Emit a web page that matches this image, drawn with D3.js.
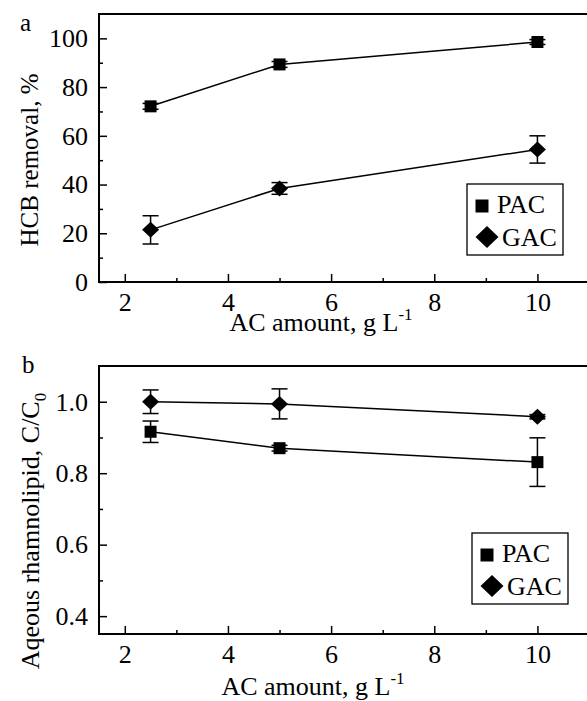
<!DOCTYPE html>
<html>
<head>
<meta charset="utf-8">
<script src="https://cdn.jsdelivr.net/npm/d3@7"></script>
<style>
  body { margin: 0; background: #fff; }
  svg text { font-family: "Liberation Serif", "Times New Roman", serif; fill: #000; }
</style>
</head>
<body>
<div id="chart"></div>
<script>
var width = 587, height = 701;

// x values shared by both panels (g/L)
var doses = [2.5, 5, 10];

// panel a: HCB removal, %
var pacRemoval = [72.1, 89.3, 98.5];
var pacRemovalErr = [1.2, 1.2, 1.0];
var gacRemoval = [21.4, 38.4, 54.4];
var gacRemovalErr = [5.8, 2.4, 5.6];

// panel b: aqueous rhamnolipid, C/C0
var pacRhamno = [0.916, 0.870, 0.831];
var pacRhamnoErr = [0.030, 0.008, 0.068];
var gacRhamno = [1.0, 0.994, 0.958];
var gacRhamnoErr = [0.033, 0.042, 0.006];

var xTicks = [2, 4, 6, 8, 10];
var xMinor = [3, 5, 7, 9];
var yTicksA = [0, 20, 40, 60, 80, 100];
var yMinorA = [10, 30, 50, 70, 90];
var yTicksB = [0.4, 0.6, 0.8, 1.0];
var yMinorB = [0.5, 0.7, 0.9];

var svg = d3.select("#chart").append("svg")
    .attr("width", width).attr("height", height);

var left = 99, right = 589;

function panel(opt) {
  var x = d3.scaleLinear().domain([1.5, 11]).range([left, right]);
  var y = d3.scaleLinear().domain(opt.ydom).range([opt.bottom, opt.top]);
  var g = svg.append("g");

  // frame
  g.append("rect")
    .attr("x", left).attr("y", opt.top)
    .attr("width", right - left).attr("height", opt.bottom - opt.top)
    .attr("fill", "none").attr("stroke", "#000").attr("stroke-width", 2);

  // x axis, ticks inward
  var ax = g.append("g").attr("transform", "translate(0," + opt.bottom + ")")
    .call(d3.axisBottom(x).tickValues(xTicks).tickSizeInner(-8).tickSizeOuter(0).tickPadding(11));
  ax.attr("font-family", null).attr("font-size", null);
  ax.select(".domain").remove();
  ax.selectAll("line").attr("stroke-width", 1.5);
  ax.selectAll("text").style("font-size", "26px");
  var axm = g.append("g").attr("transform", "translate(0," + opt.bottom + ")")
    .call(d3.axisBottom(x).tickValues(xMinor).tickSizeInner(-4).tickSizeOuter(0).tickFormat(""));
  axm.select(".domain").remove();
  axm.selectAll("line").attr("stroke-width", 1.5);

  // y axis, ticks inward
  var ay = g.append("g").attr("transform", "translate(" + left + ",0)")
    .call(d3.axisLeft(y).tickValues(opt.yticks).tickSizeInner(-8).tickSizeOuter(0).tickPadding(11)
      .tickFormat(opt.fmt));
  ay.attr("font-family", null).attr("font-size", null);
  ay.select(".domain").remove();
  ay.selectAll("line").attr("stroke-width", 1.5);
  ay.selectAll("text").style("font-size", "26px");
  var aym = g.append("g").attr("transform", "translate(" + left + ",0)")
    .call(d3.axisLeft(y).tickValues(opt.yminor).tickSizeInner(-4).tickSizeOuter(0).tickFormat(""));
  aym.select(".domain").remove();
  aym.selectAll("line").attr("stroke-width", 1.5);

  // axis titles
  var xt = g.append("text")
    .attr("x", opt.xTitleX).attr("y", opt.xTitleY)
    .attr("text-anchor", "middle").style("font-size", "26px");
  xt.append("tspan").text("AC amount, g L");
  xt.append("tspan").attr("dy", -11).style("font-size", "17px").text("-1");

  var yt = g.append("text")
    .attr("transform", "translate(" + opt.yTitleX + "," + opt.yTitleY + ") rotate(-90)")
    .attr("text-anchor", "middle").style("font-size", opt.yTitleSize);
  opt.ytitle(yt);

  g.append("text").attr("x", opt.letterX).attr("y", opt.letterY)
    .style("font-size", "25px").text(opt.letter);

  var line = d3.line().x(function(d) { return x(d.x); }).y(function(d) { return y(d.y); });

  opt.series.forEach(function(s) {
    var pts = doses.map(function(d, i) { return { x: d, y: s.y[i], e: s.e[i] }; });
    g.append("path").datum(pts).attr("d", line)
      .attr("fill", "none").attr("stroke", "#000").attr("stroke-width", 1.5);

    var eb = g.append("g").selectAll("g").data(pts).enter().append("g");
    eb.append("line")
      .attr("x1", function(d) { return x(d.x); }).attr("x2", function(d) { return x(d.x); })
      .attr("y1", function(d) { return y(d.y - d.e); }).attr("y2", function(d) { return y(d.y + d.e); })
      .attr("stroke", "#000").attr("stroke-width", 1.5);
    [-1, 1].forEach(function(sg) {
      eb.append("line")
        .attr("x1", function(d) { return x(d.x) - 8; }).attr("x2", function(d) { return x(d.x) + 8; })
        .attr("y1", function(d) { return y(d.y + sg * d.e); }).attr("y2", function(d) { return y(d.y + sg * d.e); })
        .attr("stroke", "#000").attr("stroke-width", 1.5);
    });

    g.append("g").selectAll("path").data(pts).enter().append("path")
      .attr("transform", function(d) { return "translate(" + x(d.x) + "," + y(d.y) + ")"; })
      .attr("d", s.shape)
      .attr("fill", "#000");
  });

  // legend
  var lg = g.append("g").attr("transform", "translate(" + opt.legX + "," + opt.legY + ")");
  lg.append("rect").attr("width", 96).attr("height", 71)
    .attr("fill", "#fff").attr("stroke", "#000").attr("stroke-width", 1.3);
  opt.series.forEach(function(s, i) {
    lg.append("path").attr("transform", "translate(" + (i ? 20 : 15) + "," + (i ? 53 : 22) + ")")
      .attr("d", s.legShape).attr("fill", "#000");
    lg.append("text").attr("x", i ? 35 : 30).attr("y", i ? 62 : 29)
      .style("font-size", "26px").text(s.name);
  });
}

var sq = d3.symbol().type(d3.symbolSquare).size(144)();
var dia = "M0,-8L8.5,0L0,8L-8.5,0Z";
var sqLeg = d3.symbol().type(d3.symbolSquare).size(169)();
var diaLeg = "M0,-11L11.5,0L0,11L-11.5,0Z";

panel({
  top: 14, bottom: 282, ydom: [0, 110],
  yticks: yTicksA, yminor: yMinorA, fmt: d3.format("d"),
  xTitleX: 321, xTitleY: 331,
  yTitleX: 38, yTitleY: 160, yTitleSize: "25px",
  ytitle: function(t) { t.text("HCB removal, %"); },
  letter: "a", letterX: 20, letterY: 31,
  legX: 467, legY: 184,
  series: [
    { name: "PAC", y: pacRemoval, e: pacRemovalErr, shape: sq, legShape: sqLeg },
    { name: "GAC", y: gacRemoval, e: gacRemovalErr, shape: dia, legShape: diaLeg }
  ]
});

panel({
  top: 366, bottom: 634, ydom: [0.35, 1.1],
  yticks: yTicksB, yminor: yMinorB, fmt: d3.format(".1f"),
  xTitleX: 313, xTitleY: 695,
  yTitleX: 39, yTitleY: 531, yTitleSize: "26px",
  ytitle: function(t) {
    t.append("tspan").text("Aqeous rhamnolipid, C/C");
    t.append("tspan").attr("dy", 7).style("font-size", "17px").text("0");
  },
  letter: "b", letterX: 22, letterY: 373,
  legX: 472, legY: 533,
  series: [
    { name: "PAC", y: pacRhamno, e: pacRhamnoErr, shape: sq, legShape: sqLeg },
    { name: "GAC", y: gacRhamno, e: gacRhamnoErr, shape: dia, legShape: diaLeg }
  ]
});
</script>
</body>
</html>
